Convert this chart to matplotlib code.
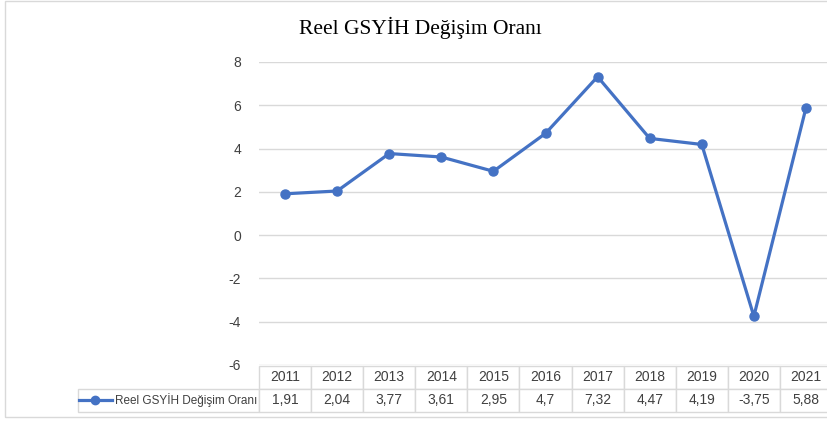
import matplotlib.pyplot as plt
from matplotlib.patches import Rectangle

years = ["2011", "2012", "2013", "2014", "2015", "2016", "2017", "2018", "2019", "2020", "2021"]
growth = [1.91, 2.04, 3.77, 3.61, 2.95, 4.7, 7.32, 4.47, 4.19, -3.75, 5.88]
series_name = "Reel GSYİH Değişim Oranı"
title = "Reel GSYİH Değişim Oranı"
yticks = [-6, -4, -2, 0, 2, 4, 6, 8]

plt.rcParams["font.family"] = ["Liberation Sans", "DejaVu Sans"]
plt.rcParams["axes.unicode_minus"] = False
blue = "#4472C4"
grid = "#D9D9D9"
txt = "#404040"

W, H = 828, 424
fig = plt.figure(figsize=(W / 100, H / 100), dpi=100)

# outer chart frame
fig.patches.append(Rectangle((5 / W, 7 / H), 1, (H - 8) / H, transform=fig.transFigure,
                             fill=False, edgecolor=grid, lw=1))

left, right, top, bottom = 259, 832, 62, 365
ax = fig.add_axes([left / W, 1 - bottom / H, (right - left) / W, (bottom - top) / H])

x = list(range(len(years)))
ax.plot(x, growth, color=blue, lw=2.3, marker="o", ms=6.5, clip_on=False, zorder=3)

ax.set_xlim(-0.5, len(years) - 0.5)
ax.set_ylim(-6, 8)
ax.set_yticks(yticks)
ax.yaxis.grid(True, color=grid, lw=1)
ax.set_axisbelow(True)
ax.tick_params(axis="y", length=0, pad=13, labelsize=10, labelcolor=txt)
ax.set_xticks([])
for s in ax.spines.values():
    s.set_visible(False)

# data table under the plot
aw = right - left
lab_w = left - 78
cell_w = aw / len(years)
cells = [[series_name] + [str(v).replace(".", ",") for v in growth]]
tbl = ax.table(cellText=cells, colLabels=[""] + years, cellLoc="center",
               colWidths=[lab_w] + [cell_w] * len(years),
               bbox=[-lab_w / aw, -(412 - bottom) / (bottom - top),
                     (lab_w + aw) / aw, 46 / (bottom - top)])
tbl.auto_set_font_size(False)
for (r, c), cell in tbl.get_celld().items():
    cell.set_edgecolor(grid)
    cell.set_linewidth(1)
    cell.get_text().set_color(txt)
    cell.get_text().set_fontsize(10)
    if r == 0 and c == 0:
        cell.visible_edges = "open"
    if r == 1 and c == 0:
        cell.get_text().set_ha("right")
        cell.get_text().set_fontsize(8.5)
        cell.PAD = 0.01

# legend key inside the label cell
ax.plot([-0.315, -0.256], [-0.116, -0.116], transform=ax.transAxes, color=blue,
        lw=2.3, clip_on=False)
ax.plot([-0.286], [-0.116], transform=ax.transAxes, color=blue, marker="o", ms=6,
        clip_on=False)

fig.text(420 / W, 1 - 28 / H, title, family="Liberation Serif", fontsize=15.5,
         ha="center", va="center", color="black")

fig.savefig("out.png", dpi=100)
